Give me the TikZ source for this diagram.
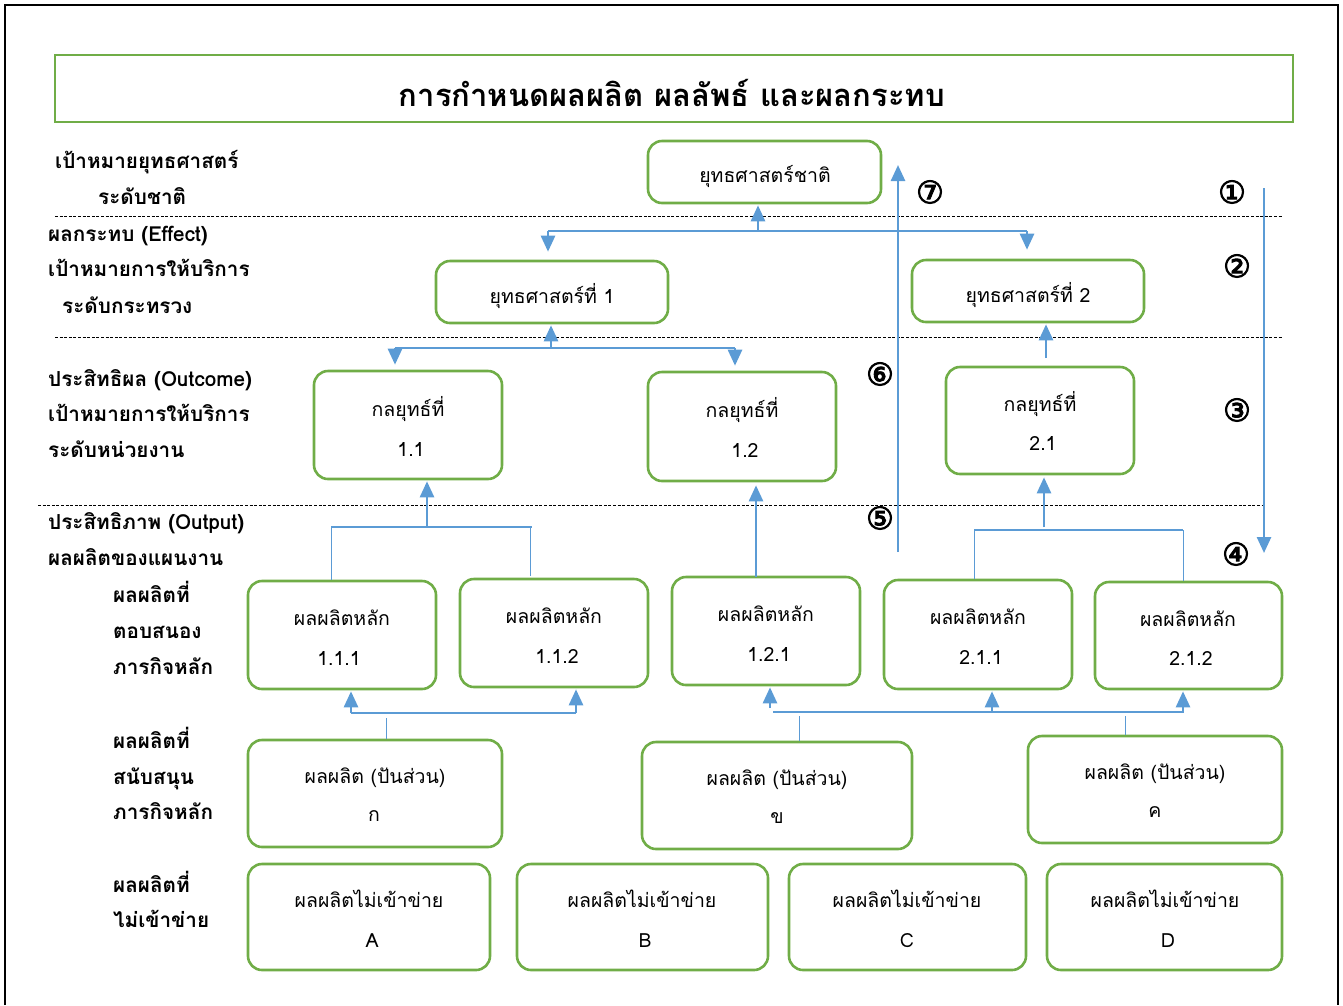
\documentclass[tikz,border=0pt]{standalone}
\usepackage{fontspec}
\setmainfont[Script=Thai]{Loma}
\newfontfamily\circfont[FakeBold=3]{DejaVu Sans}
\usetikzlibrary{arrows.meta}
\definecolor{gr}{HTML}{70AD47}
\definecolor{bl}{HTML}{5B9BD5}
\newcommand\gb[5]{\node[gbox,minimum width={#4-#2},minimum height={#5-#3}] (#1) at ({(#2+#4)/2},{(#3+#5)/2}) {};}
\begin{document}
\begin{tikzpicture}[x=1pt,y=-1pt,
 gbox/.style={draw=gr,line width=2.6pt,rounded corners=14pt,inner sep=0pt},
 tbox/.style={draw=gr,line width=2.6pt,inner sep=0pt},
 lbl/.style={anchor=base west,inner sep=0pt,font=\fontsize{20.7}{20.7}\selectfont\bfseries},
 btxt/.style={anchor=base,inner sep=0pt,font=\fontsize{19.5}{19.5}\selectfont},
 sepline/.style={draw=black,dash pattern=on 3pt off 1.6pt,line width=0.9pt},
 uparrow/.style={draw=bl,line width=2.6pt,-{Triangle[length=16pt,width=14pt]}},
 thinline/.style={draw=bl,line width=1.5pt},
 hair/.style={draw=bl,line width=1pt},
 num/.style={inner sep=0pt,font=\circfont\fontsize{31}{31}\selectfont}
]
\useasboundingbox (0,0) rectangle (1343,1005);
\draw[line width=2pt] (5,1005) -- (5,5) -- (1338,5) -- (1338,1005);

% title
\node[tbox,minimum width=1238,minimum height=67] (title) at (674,88.5) {};
\node[anchor=base,inner sep=0pt,font=\fontsize{31}{31}\selectfont\bfseries] (ttl) at (672,106) {การกำหนดผลผลิต ผลลัพธ์ และผลกระทบ};

% dashed separators
\coordinate (d1l) at (55,216); \coordinate (d1r) at (1282,216);
\coordinate (d2l) at (55,337); \coordinate (d2r) at (1282,337);
\coordinate (d3l) at (38,505); \coordinate (d3r) at (1263,505);
\draw[sepline] (d1l) -- (d1r);
\draw[sepline] (d2l) -- (d2r);
\draw[sepline] (d3l) -- (d3r);

% left labels
\node[lbl] (l1a) at (55,168) {เป้าหมายยุทธศาสตร์};
\node[lbl] (l1b) at (98,204) {ระดับชาติ};
\node[lbl] (l2a) at (48,241) {ผลกระทบ (Effect)};
\node[lbl] (l2b) at (48,276) {เป้าหมายการให้บริการ};
\node[lbl] (l2c) at (62,313) {ระดับกระทรวง};
\node[lbl] (l3a) at (48,386) {ประสิทธิผล (Outcome)};
\node[lbl] (l3b) at (48,421) {เป้าหมายการให้บริการ};
\node[lbl] (l3c) at (48,457) {ระดับหน่วยงาน};
\node[lbl] (l4a) at (48,529) {ประสิทธิภาพ (Output)};
\node[lbl] (l4b) at (48,565) {ผลผลิตของแผนงาน};
\node[lbl] (l5a) at (113,602) {ผลผลิตที่};
\node[lbl] (l5b) at (113,638) {ตอบสนอง};
\node[lbl] (l5c) at (113,674) {ภารกิจหลัก};
\node[lbl] (l6a) at (113,748) {ผลผลิตที่};
\node[lbl] (l6b) at (113,784) {สนับสนุน};
\node[lbl] (l6c) at (113,819) {ภารกิจหลัก};
\node[lbl] (l7a) at (113,892) {ผลผลิตที่};
\node[lbl] (l7b) at (113,927) {ไม่เข้าข่าย};

% boxes
\gb{s0}{648}{141}{881}{203}
\gb{s1}{436}{261}{668}{323}
\gb{s2}{912}{260}{1144}{322}
\gb{k11}{314}{371}{502}{479}
\gb{k12}{648}{372}{836}{481}
\gb{k21}{946}{367}{1134}{474}
\gb{p111}{248}{581}{436}{689}
\gb{p112}{460}{579}{648}{687}
\gb{p121}{672}{577}{860}{685}
\gb{p211}{884}{580}{1072}{689}
\gb{p212}{1095}{582}{1282}{689}
\gb{g1}{248}{740}{502}{847}
\gb{g2}{642}{742}{912}{849}
\gb{g3}{1028}{736}{1282}{843}
\gb{nA}{248}{864}{490}{970}
\gb{nB}{517}{864}{768}{970}
\gb{nC}{789}{864}{1026}{970}
\gb{nD}{1047}{864}{1282}{970}

% box texts
\node[btxt] (ts0) at (765,182) {ยุทธศาสตร์ชาติ};
\node[btxt] (ts1) at (552,303) {ยุทธศาสตร์ที่ 1};
\node[btxt] (ts2) at (1028,302) {ยุทธศาสตร์ที่ 2};
\node[btxt] (tk11a) at (408,416) {กลยุทธ์ที่};
\node[btxt] (tk11b) at (411,456) {1.1};
\node[btxt] (tk12a) at (742,417) {กลยุทธ์ที่};
\node[btxt] (tk12b) at (745,457) {1.2};
\node[btxt] (tk21a) at (1040,411) {กลยุทธ์ที่};
\node[btxt] (tk21b) at (1043,450) {2.1};
\node[btxt] (tp111a) at (342,625) {ผลผลิตหลัก};
\node[btxt] (tp111b) at (339,665) {1.1.1};
\node[btxt] (tp112a) at (554,623) {ผลผลิตหลัก};
\node[btxt] (tp112b) at (557,663) {1.1.2};
\node[btxt] (tp121a) at (766,621) {ผลผลิตหลัก};
\node[btxt] (tp121b) at (769,661) {1.2.1};
\node[btxt] (tp211a) at (978,624) {ผลผลิตหลัก};
\node[btxt] (tp211b) at (981,664) {2.1.1};
\node[btxt] (tp212a) at (1188,626) {ผลผลิตหลัก};
\node[btxt] (tp212b) at (1191,665) {2.1.2};
\node[btxt] (tg1a) at (375,783) {ผลผลิต (ปันส่วน)};
\node[btxt] (tg1b) at (374,821) {ก};
\node[btxt] (tg2a) at (777,785) {ผลผลิต (ปันส่วน)};
\node[btxt] (tg2b) at (777,823) {ข};
\node[btxt] (tg3a) at (1155,779) {ผลผลิต (ปันส่วน)};
\node[btxt] (tg3b) at (1155,817) {ค};
\node[btxt] (tnAa) at (369,907) {ผลผลิตไม่เข้าข่าย};
\node[btxt] (tnAb) at (372,947) {A};
\node[btxt] (tnBa) at (642,907) {ผลผลิตไม่เข้าข่าย};
\node[btxt] (tnBb) at (645,947) {B};
\node[btxt] (tnCa) at (907,907) {ผลผลิตไม่เข้าข่าย};
\node[btxt] (tnCb) at (907,947) {C};
\node[btxt] (tnDa) at (1165,907) {ผลผลิตไม่เข้าข่าย};
\node[btxt] (tnDb) at (1168,947) {D};

% circled numbers
\node[num] (n1) at (1232,192) {①};
\node[num] (n2) at (1237,266) {②};
\node[num] (n3) at (1237,410) {③};
\node[num] (n4) at (1236,554) {④};
\node[num] (n5) at (880,518) {⑤};
\node[num] (n6) at (880,374) {⑥};
\node[num] (n7) at (930,192) {⑦};

% connectors: level 0
\coordinate (h0l) at (548,231); \coordinate (h0r) at (1027,231); \coordinate (h0m) at (758,231);
\draw[thinline] (h0l) -- (h0r);
\draw[uparrow,shorten >=1pt] (h0m) -- (h0m |- s0.south);
\draw[uparrow,shorten >=8pt] (h0l) -- (h0l |- s1.north);
\draw[uparrow,shorten >=9pt] (h0r) -- (h0r |- s2.north);
% level 1
\coordinate (h1l) at (395,348); \coordinate (h1r) at (735,348); \coordinate (h1m) at (551,348);
\draw[thinline] (h1l) -- (h1r);
\draw[uparrow,shorten >=1pt] (h1m) -- (h1m |- s1.south);
\draw[uparrow,shorten >=5pt] (h1l) -- (h1l |- k11.north);
\draw[uparrow,shorten >=5pt] (h1r) -- (h1r |- k12.north);
\coordinate (a21) at (1046,358);
\draw[uparrow,shorten >=1pt] (a21) -- (a21 |- s2.south);
% level 2
\coordinate (h2l) at (331,527); \coordinate (h2r) at (532,527); \coordinate (h2m) at (427,527);
\draw[thinline] (h2l) -- (h2r);
\draw[uparrow,shorten >=1pt] (h2m) -- (h2m |- k11.south);
\draw[hair] (h2l) -- (h2l |- p111.north);
\coordinate (h2v) at (530,527);
\draw[hair,shorten >=2pt] (h2v) -- (h2v |- p112.north);
\coordinate (a12) at (756,577);
\draw[uparrow,shorten >=3pt] (a12) -- (a12 |- k12.south);
\coordinate (h3l) at (974,530); \coordinate (h3r) at (1183,530); \coordinate (h3m) at (1044,527);
\draw[thinline] (h3l) -- (h3r);
\draw[uparrow,shorten >=2pt] (h3m) -- (h3m |- k21.south);
\draw[hair] (h3l) -- (h3l |- p211.north);
\draw[hair] (h3r) -- (h3r |- p212.north);
% long arrows
\coordinate (v7b) at (898,552); \coordinate (v7t) at (898,165);
\draw[uparrow] (v7b) -- (v7t);
\coordinate (v1t) at (1264,188); \coordinate (v1b) at (1264,553);
\draw[uparrow] (v1t) -- (v1b);
% bottom left
\coordinate (b1l) at (351,713); \coordinate (b1r) at (576,713); \coordinate (b1s) at (386,718);
\draw[thinline] (b1l) -- (b1r);
\draw[uparrow,shorten >=1pt] (b1l) -- (b1l |- p111.south);
\draw[uparrow,shorten >=1pt] (b1r) -- (b1r |- p112.south);
\draw[hair] (b1s) -- (b1s |- g1.north);
% bottom right
\coordinate (b2l) at (773,712); \coordinate (b2r) at (1184,712);
\draw[thinline] (b2l) -- (b2r);
\coordinate (b2a) at (770,708);
\draw[uparrow,shorten >=1pt] (b2a) -- (b2a |- p121.south);
\coordinate (b2b) at (992,712);
\draw[uparrow,shorten >=1pt] (b2b) -- (b2b |- p211.south);
\coordinate (b2c) at (1183,712);
\draw[uparrow,shorten >=1pt] (b2c) -- (b2c |- p212.south);
\coordinate (b2s1) at (799,716); \coordinate (b2s2) at (1125,716);
\draw[hair] (b2s1) -- (b2s1 |- g2.north);
\draw[hair] (b2s2) -- (b2s2 |- g3.north);
\end{tikzpicture}
\end{document}
